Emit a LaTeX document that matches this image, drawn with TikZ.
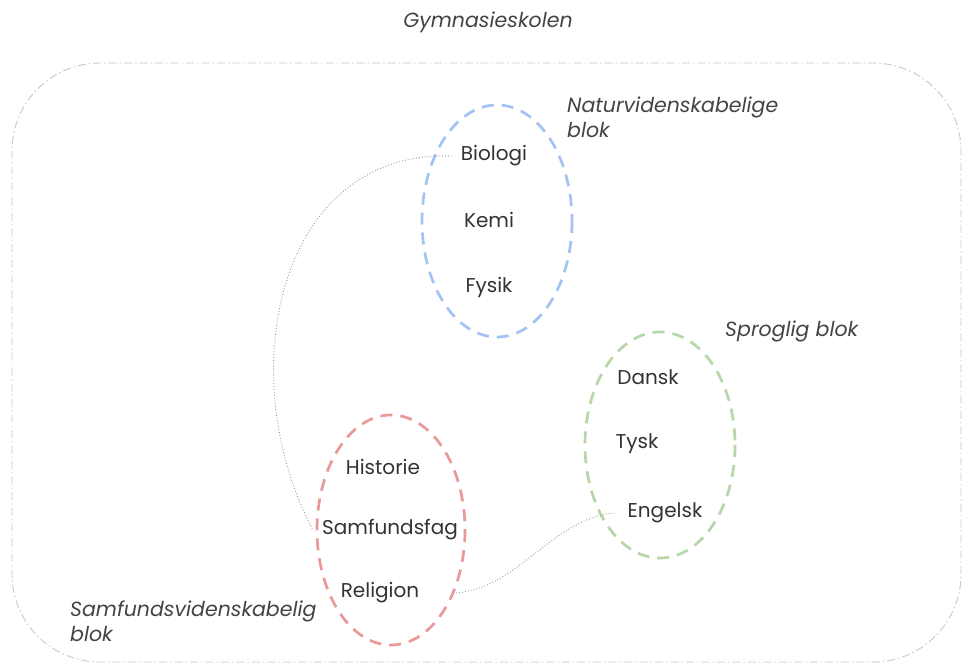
\documentclass[tikz,border=0pt]{standalone}
\usepackage{fontspec}
\setmainfont{Poppins}
\begin{document}
\begin{tikzpicture}[x=1pt,y=-1pt,
  subject/.style={font=\fontsize{20}{24}\selectfont, text=txt, inner sep=1pt},
  blocklabel/.style={font=\fontsize{20.5}{25}\selectfont\itshape, text=lbl, align=left, inner sep=0pt},
  block/.style={line width=2.7pt, dash pattern=on 12pt off 8pt},
  link/.style={draw=linkgray, line width=0.9pt, dash pattern=on 0.9pt off 2pt}]
\definecolor{txt}{HTML}{333333}
\definecolor{lbl}{HTML}{444444}
\definecolor{bluebl}{HTML}{A4C2F4}
\definecolor{redbl}{HTML}{EA9999}
\definecolor{greenbl}{HTML}{B6D7A8}
\definecolor{framegray}{HTML}{C8C8C8}
\definecolor{linkgray}{HTML}{9A9A9A}
\useasboundingbox (0,0) rectangle (963,663);
\fill[white] (0,0) rectangle (963,663);

% school frame
\draw[framegray, line width=0.9pt, dash pattern=on 8pt off 3pt on 1.5pt off 3pt, rounded corners=88pt]
  (12,63) rectangle (961,662);
\node[blocklabel] (school) at (488,22) {Gymnasieskolen};

% block ellipses
\draw[block, draw=bluebl] (497,221) ellipse [x radius=75, y radius=116];
\draw[block, draw=greenbl] (660,445) ellipse [x radius=75, y radius=113];
\draw[block, draw=redbl] (391,530) ellipse [x radius=74, y radius=115];

% block labels
\node[blocklabel, anchor=west] (natlbl) at (567,117) {Naturvidenskabelige\\blok};
\node[blocklabel, anchor=west] (sprlbl) at (725,331) {Sproglig blok};
\node[blocklabel, anchor=west] (samlbl) at (70,621) {Samfundsvidenskabelig\\blok};

% subjects
\node[subject] (bio) at (494,156) {Biologi};
\node[subject] (kemi) at (489,220) {Kemi};
\node[subject] (fys) at (489,287) {Fysik};
\node[subject] (dansk) at (648,377) {Dansk};
\node[subject] (tysk) at (637,444) {Tysk};
\node[subject] (eng) at (665,513) {Engelsk};
\node[subject] (hist) at (383,467) {Historie};
\node[subject] (samf) at (390,530) {Samfundsfag};
\node[subject] (rel) at (380,593) {Religion};

% link end points just outside the subject names
\coordinate (bioL) at ([xshift=-8pt]bio.west);
\coordinate (samfL) at ([xshift=-8pt]samf.west);
\coordinate (relR) at ([xshift=33pt]rel.east);
\coordinate (engL) at ([xshift=-12pt]eng.west);

% cross-block links
\draw[link] (bioL) to[out=178, in=118, looseness=1.12] (samfL);
\draw[link] (relR) to[out=2, in=185, looseness=0.9] (engL);
\end{tikzpicture}
\end{document}
